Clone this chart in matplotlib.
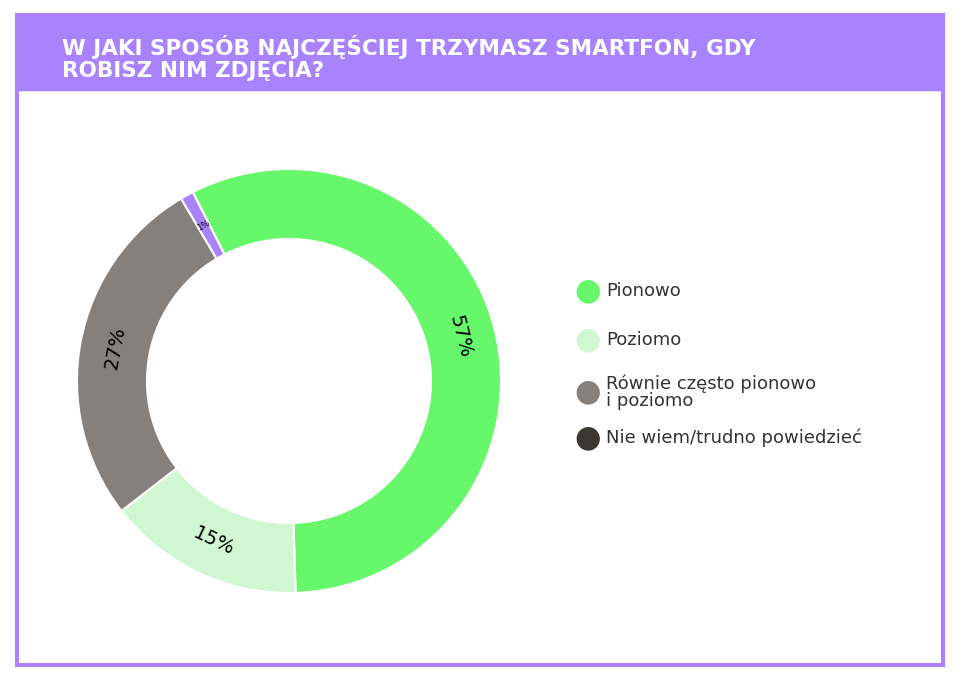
import matplotlib.pyplot as plt
from matplotlib.patches import Rectangle
import numpy as np

title = "W JAKI SPOSÓB NAJCZĘŚCIEJ TRZYMASZ SMARTFON, GDY\nROBISZ NIM ZDJĘCIA?"
labels = ["Pionowo", "Poziomo", "Równie często pionowo\ni poziomo", "Nie wiem/trudno powiedzieć"]
values = [57, 15, 27, 1]
slice_colors = ["#66f76a", "#d1f7d2", "#85807b", "#a982ff"]
legend_colors = ["#66f76a", "#d1f7d2", "#85807b", "#3b3834"]

W, H = 960, 682
fig = plt.figure(figsize=(W / 100, H / 100), dpi=100)
fig.patch.set_facecolor("white")

# frame + header band
purple = "#a982ff"
fig.patches.append(Rectangle((17 / W, 1 - 665 / H), 926 / W, 650 / H, transform=fig.transFigure,
                             fill=False, ec=purple, lw=3))
fig.patches.append(Rectangle((17 / W, 1 - 90 / H), 926 / W, 75 / H, transform=fig.transFigure,
                             fc=purple, ec=purple))
fig.text(62 / W, 1 - 58 / H, title, color="white", fontsize=15.5, fontweight="bold",
         va="center", ha="left", linespacing=1.15)

# donut
r = 212
cx, cy = 289, 381
ax = fig.add_axes([(cx - r) / W, 1 - (cy + r) / H, 2 * r / W, 2 * r / H])
start = 117
wedges, _ = ax.pie(values, colors=slice_colors, startangle=start, counterclock=False,
                   wedgeprops=dict(width=0.33, edgecolor="white", linewidth=1.5))
ax.set_xlim(-1, 1)
ax.set_ylim(-1, 1)
ax.set_aspect("equal")

ang = start
for v, w in zip(values, wedges):
    mid = ang - v * 3.6 / 2
    ang -= v * 3.6
    rot = mid - 90
    while rot < -90:
        rot += 180
    while rot > 90:
        rot -= 180
    rr = 0.835
    ax.text(rr * np.cos(np.radians(mid)), rr * np.sin(np.radians(mid)), f"{v}%",
            ha="center", va="center", rotation=rot,
            fontsize=6 if v < 3 else 14, color="black")

# legend
ys = [291, 340, 392, 438]
for lab, c, y in zip(labels, legend_colors, ys):
    fig.text(588 / W, 1 - y / H, "●", color=c, fontsize=22, ha="center", va="center")
    fig.text(606 / W, 1 - y / H, lab, color="#333333", fontsize=13, ha="left", va="center",
             linespacing=0.95)

fig.savefig("out.png", dpi=100)
